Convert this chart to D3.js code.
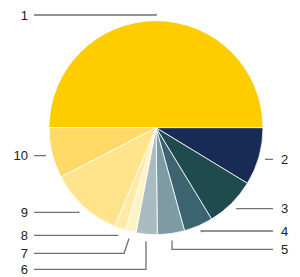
<!DOCTYPE html>
<html><head><meta charset="utf-8">
<script src="https://cdn.jsdelivr.net/npm/d3@7"></script>
<style>html,body{margin:0;padding:0;background:#fff;}</style>
</head><body>
<svg id="chart" width="300" height="277"></svg>
<script>
// Data
const categories = ["1","2","3","4","5","6","7","8","9","10"];
const values = [50, 8.7, 7.6, 4.4, 4.1, 3.2, 1.6, 1.7, 11.1, 7.6];
const colors = ["#ffcc00","#172b55","#1f4b4e","#3b6470","#7e9ba3","#a9bcc2","#fff3c4","#ffeba6","#ffe48c","#ffd966"];
// Label layout (row y, side, elbow x-offset)
const labelRows = [15, 159.3, 208.7, 231, 249.3, 269.3, 253.3, 235.3, 212.3, 155.7];
const labelSide = ["L","R","R","R","R","L","L","L","L","L"];
const elbowShift = [0,0,0,0,0,0,-5,0,0,0];

const svg = d3.select("#chart");
const cx = 156, cy = 127.7, R = 107, rAnchor = 114;
const g = svg.append("g").attr("transform", `translate(${cx},${cy})`);

const pie = d3.pie().sort(null).value(d => d).startAngle(-Math.PI/2).endAngle(3*Math.PI/2);
const arcs = pie(values);
const arc = d3.arc().innerRadius(0).outerRadius(R);

g.selectAll("path.slice").data(arcs).join("path")
  .attr("class","slice")
  .attr("d", arc)
  .attr("fill", (d,i) => colors[i])
  .attr("stroke", "#fff")
  .attr("stroke-width", 1)
  .attr("stroke-opacity", 0.8);

const leftX = 34 - cx, rightX = 273 - cx;
arcs.forEach((d,i) => {
  const a = (d.startAngle + d.endAngle)/2;
  const ax = Math.sin(a)*rAnchor, ay = -Math.cos(a)*rAnchor;
  const ly = labelRows[i] - cy;
  const ex = ax + elbowShift[i];
  const endX = labelSide[i] === "L" ? leftX : rightX;
  const path = d3.path();
  path.moveTo(ax, ay);
  if (Math.abs(ly - ay) > 1.5) path.lineTo(ex, ly); else path.lineTo(ax, ly);
  path.lineTo(endX, ly);
  g.append("path").attr("d", path.toString())
    .attr("fill","none").attr("stroke","#707070").attr("stroke-width",1.3);
  g.append("text")
    .attr("x", labelSide[i] === "L" ? endX - 6 : endX + 8)
    .attr("y", ly)
    .attr("dy","0.36em")
    .attr("text-anchor", labelSide[i] === "L" ? "end" : "start")
    .attr("font-family","Liberation Sans, Arial, sans-serif")
    .attr("font-size", 13)
    .attr("fill","#222")
    .text(categories[i]);
});
</script>
</body></html>
